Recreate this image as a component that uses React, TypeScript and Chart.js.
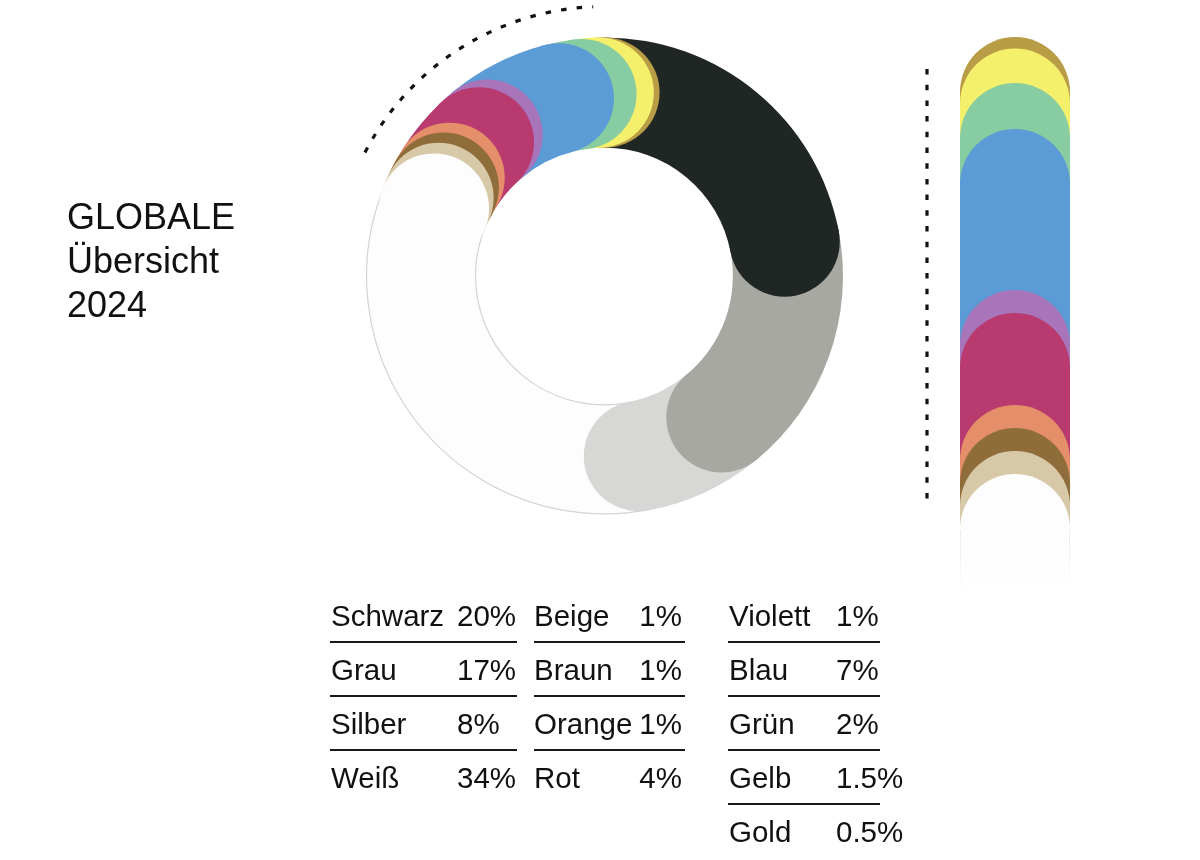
import React, { useEffect, useRef } from "react";
import { Chart, registerables } from "chart.js";

Chart.register(...registerables);

// ---- data ----
const categories = ["Schwarz", "Grau", "Silber", "Weiß", "Beige", "Braun", "Orange", "Rot", "Violett", "Blau", "Grün", "Gelb", "Gold"];
const shares = [20, 17, 8, 34, 1, 1, 1, 4, 1, 7, 2, 1.5, 0.5];
const colors = ["#1f2624", "#a8a8a2", "#d7d7d5", "#fdfdfd", "#d7c8a8", "#8f6d3b", "#e58e6a", "#b83a6f", "#a875bb", "#5b9bd6", "#88cda2", "#f5f06c", "#b99c46"];
const outlineColors = ["", "", "", "#d4d4d4", "", "", "", "", "", "", "", "", ""];
const titleLines = ["GLOBALE", "Übersicht", "2024"];
const tableColumns = [
  [0, 1, 2, 3],
  [4, 5, 6, 7],
  [8, 9, 10, 11, 12],
];

// bar shows the white segment plus the small colours
const barStart = categories.indexOf("Weiß");
const barCategories = categories.slice(barStart);
const barShares = shares.slice(barStart);
const barColors = colors.slice(barStart);

const FONT = '"Liberation Sans", Arial, Helvetica, sans-serif';
const DEG = Math.PI / 180;

const ringPlugin = {
  id: "roundedRing",
  beforeDatasetDraw(chart: any, args: any) {
    const meta = chart.getDatasetMeta(args.index);
    const ds = chart.data.datasets[args.index];
    const arcs = meta.data;
    const n = arcs.length;
    const ctx = chart.ctx;
    ctx.save();
    // bodies
    for (let i = 0; i < n; i++) {
      const a = arcs[i];
      const s = i === 0 ? arcs[n - 1].endAngle - Math.PI * 2 : a.startAngle;
      ctx.beginPath();
      ctx.arc(a.x, a.y, a.outerRadius, s, a.endAngle);
      ctx.arc(a.x, a.y, a.innerRadius, a.endAngle, s, true);
      ctx.closePath();
      ctx.fillStyle = ds.backgroundColor[i];
      ctx.fill();
      const oc = ds.outlineColor[i];
      if (oc) {
        ctx.strokeStyle = oc;
        ctx.lineWidth = 1.2;
        ctx.beginPath();
        ctx.arc(a.x, a.y, a.outerRadius - 0.6, s, a.endAngle);
        ctx.stroke();
        ctx.beginPath();
        ctx.arc(a.x, a.y, a.innerRadius + 0.6, s, a.endAngle);
        ctx.stroke();
      }
    }
    // rounded ends, last first so each end lies over the next segment
    for (let i = n - 1; i >= 0; i--) {
      const a = arcs[i];
      const mid = (a.innerRadius + a.outerRadius) / 2;
      const half = (a.outerRadius - a.innerRadius) / 2;
      ctx.beginPath();
      ctx.arc(a.x + mid * Math.cos(a.endAngle), a.y + mid * Math.sin(a.endAngle), half, 0, Math.PI * 2);
      ctx.fillStyle = ds.backgroundColor[i];
      ctx.fill();
    }
    ctx.restore();
    return false;
  },
  afterDraw(chart: any) {
    const arcs = chart.getDatasetMeta(0).data;
    const first = arcs[categories.indexOf("Beige")];
    const last = arcs[categories.length - 1];
    const ctx = chart.ctx;
    ctx.save();
    ctx.strokeStyle = "#111";
    ctx.lineWidth = 3.2;
    ctx.setLineDash([5.5, 10.2]);
    ctx.beginPath();
    ctx.arc(first.x, first.y, first.outerRadius + 31, first.startAngle + 5.7 * DEG, last.endAngle - 2.4 * DEG);
    ctx.stroke();
    ctx.restore();
  },
};

const barPlugin = {
  id: "roundedBars",
  beforeDatasetsDraw(chart: any) {
    const ctx = chart.ctx;
    const area = chart.chartArea;
    const metas = chart.data.datasets.map((_: any, i: number) => chart.getDatasetMeta(i).data[0]);
    ctx.save();
    metas.forEach((b: any, i: number) => {
      const left = b.x - b.width / 2;
      const bottom = Math.min(b.base, area.bottom);
      const col = chart.data.datasets[i].backgroundColor;
      if (i === 0) {
        // white segment fades out downwards
        const g = ctx.createLinearGradient(0, b.y, 0, b.y + 70);
        g.addColorStop(0, col);
        g.addColorStop(1, "#ffffff");
        ctx.fillStyle = g;
        ctx.fillRect(left, b.y, b.width, bottom - b.y);
        const e = ctx.createLinearGradient(0, b.y, 0, b.y + 60);
        e.addColorStop(0, "rgba(205,205,205,0.4)");
        e.addColorStop(1, "rgba(205,205,205,0)");
        ctx.strokeStyle = e;
        ctx.lineWidth = 1;
        ctx.beginPath();
        ctx.moveTo(left + 0.5, b.y);
        ctx.lineTo(left + 0.5, b.y + 60);
        ctx.moveTo(left + b.width - 0.5, b.y);
        ctx.lineTo(left + b.width - 0.5, b.y + 60);
        ctx.stroke();
      } else {
        ctx.fillStyle = col;
        ctx.fillRect(left, b.y, b.width, bottom - b.y);
      }
    });
    for (let i = metas.length - 1; i >= 0; i--) {
      const b = metas[i];
      const r = b.width / 2;
      ctx.beginPath();
      ctx.arc(b.x, b.y, r, Math.PI, 0);
      ctx.lineTo(b.x + r, b.y + 1);
      ctx.lineTo(b.x - r, b.y + 1);
      ctx.closePath();
      ctx.fillStyle = chart.data.datasets[i].backgroundColor;
      ctx.fill();
    }
    ctx.restore();
    return false;
  },
  afterDraw(chart: any) {
    const ctx = chart.ctx;
    const y = chart.scales.y;
    const x = chart.chartArea.left - 33;
    ctx.save();
    ctx.strokeStyle = "#111";
    ctx.lineWidth = 3.2;
    ctx.setLineDash([5.5, 10.2]);
    ctx.beginPath();
    ctx.moveTo(x, y.getPixelForValue(54));
    ctx.lineTo(x, y.getPixelForValue(35.1));
    ctx.stroke();
    ctx.restore();
  },
};

export default function App() {
  const ringRef = useRef<HTMLCanvasElement>(null);
  const barRef = useRef<HTMLCanvasElement>(null);

  useEffect(() => {
    const total = shares.reduce((s, v) => s + v, 0);
    const ring = new Chart(ringRef.current as HTMLCanvasElement, {
      type: "doughnut",
      data: {
        labels: categories,
        datasets: [
          {
            data: shares,
            backgroundColor: colors,
            outlineColor: outlineColors,
            borderWidth: 0,
          } as any,
        ],
      },
      options: {
        responsive: false,
        animation: false,
        events: [],
        cutout: "53.8%",
        circumference: total * 3.6,
        rotation: 360 - total * 3.6,
        layout: { padding: { left: 366, top: 37, right: 357, bottom: 345 } },
        plugins: { legend: { display: false }, tooltip: { enabled: false } },
      } as any,
      plugins: [ringPlugin as any],
    });

    const bar = new Chart(barRef.current as HTMLCanvasElement, {
      type: "bar",
      data: {
        labels: [""],
        datasets: barCategories.map((c, i) => ({
          label: c,
          data: [barShares[i]],
          backgroundColor: barColors[i],
          stack: "s",
          barPercentage: 1,
          categoryPercentage: 1,
          borderWidth: 0,
        })),
      },
      options: {
        responsive: false,
        animation: false,
        events: [],
        layout: { padding: { left: 60, right: 30, top: 23, bottom: 101 } },
        scales: {
          x: { display: false, stacked: true },
          y: { display: false, stacked: true, min: 24, max: 56 },
        },
        plugins: { legend: { display: false }, tooltip: { enabled: false } },
      } as any,
      plugins: [barPlugin as any],
    });

    return () => {
      ring.destroy();
      bar.destroy();
    };
  }, []);

  const colLabelX = [331, 534, 729];
  const colValX = [457, 682, 836];
  const colValAlign = ["left", "right", "left"];
  const ruleX = [[330, 517], [534, 685], [728, 880]];
  const rowTop = 601;
  const rowPitch = 54;
  const fs = 29.5;

  return (
    <div
      style={{
        position: "absolute",
        left: 0,
        top: 0,
        width: 1200,
        height: 860,
        background: "#fff",
        overflow: "hidden",
        fontFamily: FONT,
        color: "#111",
      }}
    >
      <canvas ref={ringRef} width={1200} height={860} style={{ position: "absolute", left: 0, top: 0 }} />
      <canvas ref={barRef} width={200} height={860} style={{ position: "absolute", left: 900, top: 0 }} />

      <div style={{ position: "absolute", left: 67, top: 194.5, fontSize: 36, lineHeight: "44px", whiteSpace: "pre" }}>
        {titleLines.map((t) => (
          <div key={t}>{t}</div>
        ))}
      </div>

      {tableColumns.map((col, ci) =>
        col.map((idx, ri) => {
          const top = rowTop + ri * rowPitch;
          const isLast = ri === col.length - 1;
          return (
            <React.Fragment key={categories[idx]}>
              <div style={{ position: "absolute", left: colLabelX[ci], top, fontSize: fs, lineHeight: 1, whiteSpace: "pre" }}>
                {categories[idx]}
              </div>
              <div
                style={
                  colValAlign[ci] === "left"
                    ? { position: "absolute", left: colValX[ci], top, fontSize: fs, lineHeight: 1, whiteSpace: "pre" }
                    : { position: "absolute", right: 1200 - colValX[ci], top, fontSize: fs, lineHeight: 1, whiteSpace: "pre", textAlign: "right" }
                }
              >
                {shares[idx] + "%"}
              </div>
              {!isLast && (
                <div
                  style={{
                    position: "absolute",
                    left: ruleX[ci][0],
                    top: top + 40,
                    width: ruleX[ci][1] - ruleX[ci][0],
                    height: 2,
                    background: "#1a1a1a",
                  }}
                />
              )}
            </React.Fragment>
          );
        })
      )}
    </div>
  );
}
